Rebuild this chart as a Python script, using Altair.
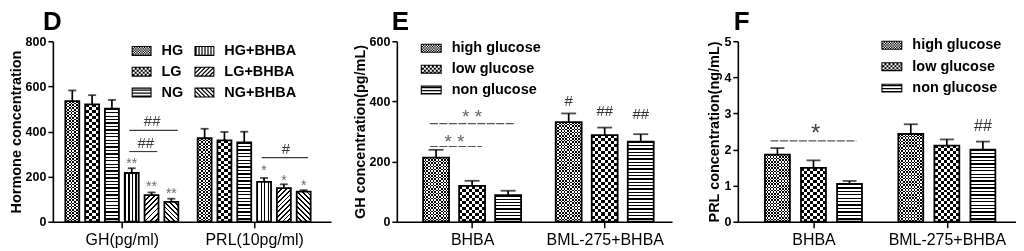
import math
import altair as alt
import pandas as pd

FONT = "Liberation Sans"
BLACK = "#000000"
WHITE = "#ffffff"

# ---------------- data ----------------
D_groups = ["GH(pg/ml)", "PRL(10pg/ml)"]
D_series = ["HG", "LG", "NG", "HG+BHBA", "LG+BHBA", "NG+BHBA"]
D_gh_mean = [535, 520, 501, 216, 118, 88]
D_gh_err = [47, 41, 39, 21, 12, 14]
D_prl_mean = [370, 361, 352, 177, 149, 133]
D_prl_err = [42, 37, 47, 17, 17, 7]
D_yticks = [0, 200, 400, 600, 800]
D_star_text = ["**", "**", "**", "*", "*", "*"]
D_star_x = [3, 4, 5, 9.68, 10.68, 11.68]
D_star_y = [270, 168, 137, 239, 195, 173]
D_hash_text = ["##", "##", "#"]
D_hash_x = [4.03, 3.71, 10.78]
D_hash_y = [446, 350, 322]
D_line_x1 = [2.88, 2.88, 9.56]
D_line_x2 = [5.32, 4.29, 11.9]
D_line_y = [405, 311, 284]

E_groups = ["BHBA", "BML-275+BHBA"]
E_series = ["high glucose", "low glucose", "non glucose"]
E_bhba_mean = [213, 119, 88]
E_bhba_err = [26, 17, 15]
E_bml_mean = [331, 288, 266]
E_bml_err = [29, 25, 25]
E_yticks = [0, 200, 400, 600]
E_star_text = ["* *", "* *"]
E_star_x = [1.0, 0.51]
E_star_y = [362, 279]
E_hash_text = ["#", "##", "##"]
E_hash_x = [3.68, 4.68, 5.68]
E_hash_y = [401, 368, 357]
E_line_x1 = [-0.17, -0.17]
E_line_x2 = [2.17, 1.27]
E_line_y = [326, 250]

F_groups = ["BHBA", "BML-275+BHBA"]
F_series = ["high glucose", "low glucose", "non glucose"]
F_bhba_mean = [1.86, 1.49, 1.05]
F_bhba_err = [0.18, 0.21, 0.08]
F_bml_mean = [2.43, 2.11, 2.00]
F_bml_err = [0.27, 0.17, 0.22]
F_yticks = [0, 1, 2, 3, 4, 5]
F_star_text = ["*"]
F_star_x = [1.06]
F_star_y = [2.56]
F_hash_text = ["##"]
F_hash_x = [5.7]
F_hash_y = [2.65]
F_line_x1 = [-0.19]
F_line_x2 = [2.19]
F_line_y = [2.24]

D_patterns = ["dots", "checker", "hlines", "vlines", "diag_up", "diag_down"]
EF_patterns = ["dots", "checker", "hlines"]


# ---------------- pattern helpers ----------------
def grad(n, frac, x1, y1, x2, y2, on=BLACK, off=WHITE):
    n = max(1, int(n))
    stops = []
    for k in range(n):
        a, m, e = k / n, (k + frac) / n, (k + 1) / n
        stops += [alt.GradientStop(color=on, offset=round(a, 5)),
                  alt.GradientStop(color=on, offset=round(m, 5)),
                  alt.GradientStop(color=off, offset=round(m, 5)),
                  alt.GradientStop(color=off, offset=round(e, 5))]
    return alt.LinearGradient(gradient="linear", stops=stops, x1=x1, y1=y1, x2=x2, y2=y2)


def clip_poly(poly, nx, ny, c, ge):
    out = []
    for i in range(len(poly)):
        p, q = poly[i], poly[(i + 1) % len(poly)]
        fp = nx * p[0] + ny * p[1] - c
        fq = nx * q[0] + ny * q[1] - c
        if not ge:
            fp, fq = -fp, -fq
        if fp >= 0:
            out.append(p)
        if (fp >= 0) != (fq >= 0):
            t = fp / (fp - fq)
            out.append((p[0] + t * (q[0] - p[0]), p[1] + t * (q[1] - p[1])))
    return out


def poly_area(poly):
    s = 0.0
    for i in range(len(poly)):
        x0, y0 = poly[i]
        x1, y1 = poly[(i + 1) % len(poly)]
        s += x0 * y1 - x1 * y0
    return s / 2


def ring(poly, sc, positive):
    if (poly_area(poly) > 0) != positive:
        poly = poly[::-1]
    pts = ["%.3f,%.3f" % (x * sc, y * sc) for x, y in poly]
    return "M" + "L".join(pts) + "Z"


def symbol_path(pattern, W, H):
    hw, hh, b = W / 2, H / 2, 1.1
    outer = [(-hw, -hh), (hw, -hh), (hw, hh), (-hw, hh)]
    inner = [(-hw + b, -hh + b), (hw - b, -hh + b), (hw - b, hh - b), (-hw + b, hh - b)]
    holes = []
    if pattern in ("checker", "dots"):
        cell = 2.0 if pattern == "checker" else 1.25
        x0, y0 = -hw + b, -hh + b
        nxc = int(math.ceil((W - 2 * b) / cell))
        nyc = int(math.ceil((H - 2 * b) / cell))
        for i in range(nxc):
            for j in range(nyc):
                if (i + j) % 2 == 0:
                    xa, ya = x0 + i * cell, y0 + j * cell
                    xb, yb = min(xa + cell, hw - b), min(ya + cell, hh - b)
                    if xb - xa > 0.2 and yb - ya > 0.2:
                        holes.append([(xa, ya), (xb, ya), (xb, yb), (xa, yb)])
    else:
        r = math.sqrt(0.5)
        nx, ny = {"hlines": (0, 1), "vlines": (1, 0),
                  "diag_up": (r, r), "diag_down": (r, -r)}[pattern]
        period, lw = 3.0, 1.2
        ts = [nx * x + ny * y for x, y in inner]
        for k in range(int(math.floor(min(ts) / period)) - 1, int(math.ceil(max(ts) / period)) + 1):
            poly = clip_poly(inner, nx, ny, k * period + lw, True)
            if len(poly) >= 3:
                poly = clip_poly(poly, nx, ny, (k + 1) * period, False)
            if len(poly) >= 3 and abs(poly_area(poly)) > 0.05:
                holes.append(poly)
    sc = 1.0 / hw
    return ring(outer, sc, True) + "".join(ring(h, sc, False) for h in holes)


def bar_fills(pattern, w, h):
    """list of (fill, blend) layers that paint one bar of pixel size w x h"""
    if pattern == "hlines":
        return [(grad(round(h / 3.4), 0.38, 0, 0, 0, 1), None)]
    if pattern == "vlines":
        return [(grad(round(w / 3.5), 0.38, 0, 0, 1, 0), None)]
    if pattern in ("diag_up", "diag_down"):
        k = h / w
        a = (1 + k) / (1 + k * k)
        bb = k * a
        n = round((w + h) / math.sqrt(2) / 3.4)
        if pattern == "diag_up":
            return [(grad(n, 0.38, 0, 0, a, bb), None)]
        return [(grad(n, 0.38, 0, 1, a, 1 - bb), None)]
    cell = 3.0 if pattern == "checker" else 1.6
    return [(grad(round(h / (2 * cell)), 0.5, 0, 0, 0, 1), None),
            (grad(round(w / (2 * cell)), 0.5, 0, 0, 1, 0), "difference")]


# ---------------- panel builder ----------------
def build_df(groups, series, means, errs, gap):
    step = len(series) - 1 + gap
    rows = []
    for g, grp in enumerate(groups):
        for i, s in enumerate(series):
            rows.append({"group": grp, "series": s, "pos": g * step + i,
                         "value": means[g][i], "top": means[g][i] + errs[g][i]})
    return pd.DataFrame(rows)


def panel(letter, title_dx, groups, series, means, errs, patterns, gap, xdom,
          ymax, yticks, ytitle, W, H, bw, capw, legend_cols,
          legend_x, legend_y, sym_w, sym_h, col_pad, row_pad,
          stars, hashes, lines, star_style, hash_style, line_style):
    df = build_df(groups, series, means, errs, gap)
    n = len(series)
    step = n - 1 + gap
    centers = [g * step + (n - 1) / 2 for g in range(len(groups))]
    mid = (centers[0] + centers[1]) / 2
    label_expr = "datum.value < %s ? '%s' : '%s'" % (mid, groups[0], groups[1])

    xscale = alt.Scale(domain=xdom, nice=False, zero=False)
    xaxis = alt.Axis(values=centers, labelExpr=label_expr, grid=False,
                     tickSize=6, tickWidth=1.5, tickColor=BLACK,
                     domainColor=BLACK, domainWidth=1.6,
                     labelFont=FONT, labelFontSize=16, labelColor=BLACK,
                     labelPadding=4, labelFlush=False, labelOverlap=False)
    yscale = alt.Scale(domain=[0, ymax], nice=False, zero=True)
    yaxis = alt.Axis(values=yticks, grid=False, tickSize=5, tickWidth=1.5,
                     tickColor=BLACK, domainColor=BLACK, domainWidth=1.6,
                     labelFont=FONT, labelFontSize=12.5, labelFontWeight="bold",
                     labelColor=BLACK, labelPadding=2,
                     titleFont=FONT, titleFontSize=14.5, titleFontWeight="bold",
                     titleColor=BLACK, titlePadding=2)

    def X(field="pos"):
        return alt.X(field + ":Q", scale=xscale, axis=xaxis, title=None)

    def Y(field="value"):
        return alt.Y(field + ":Q", scale=yscale, axis=yaxis, title=ytitle)

    pat_of = dict(zip(series, patterns))
    layers = []
    # patterned fills, one layer set per bar
    for _, row in df.iterrows():
        h = row["value"] / ymax * H
        rdf = pd.DataFrame([row])
        for fill, blend in bar_fills(pat_of[row["series"]], bw, h):
            kw = {"blend": blend} if blend else {}
            layers.append(alt.Chart(rdf).mark_bar(orient="vertical", size=bw, fill=fill, **kw)
                          .encode(x=X(), y=Y("value")))
    # error bars
    layers.append(alt.Chart(df).mark_rule(color=BLACK, strokeWidth=1.7)
                  .encode(x=X(), y=Y("value"), y2=alt.Y2("top:Q")))
    # bar outlines
    layers.append(alt.Chart(df).mark_bar(orient="vertical", size=bw, fillOpacity=0,
                                         stroke=BLACK, strokeWidth=1.8)
                  .encode(x=X(), y=Y("value")))
    layers.append(alt.Chart(df).mark_tick(orient="horizontal", size=capw, thickness=1.8, color=BLACK)
                  .encode(x=X(), y=Y("top")))
    # legend (invisible points, patterned legend symbols)
    paths = [symbol_path(pat_of[s], sym_w, sym_h) for s in series]
    legend = alt.Legend(title=None, orient="none", legendX=legend_x, legendY=legend_y,
                        direction="vertical", columns=legend_cols, padding=0,
                        symbolSize=sym_w * sym_w, symbolFillColor=BLACK,
                        symbolStrokeWidth=0, symbolOpacity=1,
                        labelFont=FONT, labelFontSize=14.5, labelFontWeight="bold",
                        labelColor=BLACK, labelOffset=10,
                        columnPadding=col_pad, rowPadding=row_pad)
    layers.append(alt.Chart(df).mark_point(filled=True, color=BLACK, opacity=0)
                  .encode(x=X(), y=Y("value"),
                          shape=alt.Shape("series:N",
                                          scale=alt.Scale(domain=series, range=paths),
                                          legend=legend)))
    # significance lines
    lx1, lx2, ly = lines
    ldf = pd.DataFrame({"pos": lx1, "pos2": lx2, "value": ly})
    layers.append(alt.Chart(ldf).mark_rule(**line_style)
                  .encode(x=X(), x2=alt.X2("pos2:Q"), y=Y("value")))
    for (txt, tx, ty), style in ((stars, star_style), (hashes, hash_style)):
        tdf = pd.DataFrame({"label": txt, "pos": tx, "value": ty})
        layers.append(alt.Chart(tdf).mark_text(font=FONT, align="center", baseline="middle", **style)
                      .encode(x=X(), y=Y("value"), text="label:N"))

    return alt.layer(*layers).properties(
        width=W, height=H,
        title=alt.TitleParams(letter, anchor="start", frame="group", dx=title_dx,
                              font=FONT, fontSize=26, fontWeight="bold", color=BLACK, offset=0))


D = panel("D", -10, D_groups, D_series, [D_gh_mean, D_prl_mean], [D_gh_err, D_prl_err],
          D_patterns, 1.68, [-0.73, 12.81], 800, D_yticks, "Hormone concentration",
          279, 181, 14, 8, 2, 79, -0.5, 20, 10, 11, 4,
          (D_star_text, D_star_x, D_star_y), (D_hash_text, D_hash_x, D_hash_y),
          (D_line_x1, D_line_x2, D_line_y),
          {"fontSize": 14, "color": "#6a6a6a", "dy": 3},
          {"fontSize": 15, "color": "#3a3a3a"},
          {"color": "#3a3a3a", "strokeWidth": 1.1})

E = panel("E", -5, E_groups, E_series, [E_bhba_mean, E_bml_mean], [E_bhba_err, E_bml_err],
          EF_patterns, 1.68, [-0.95, 6.41], 600, E_yticks, "GH concentration(pg/mL)",
          276, 181, 26, 15, 1, 24, -3.5, 21, 9, 10, 4,
          (E_star_text, E_star_x, E_star_y), (E_hash_text, E_hash_x, E_hash_y),
          (E_line_x1, E_line_x2, E_line_y),
          {"fontSize": 19, "color": "#666666", "dy": 4},
          {"fontSize": 15, "color": "#333333"},
          {"color": "#555555", "strokeWidth": 1.1, "strokeDash": [8, 1.5]})

F = panel("F", -4, F_groups, F_series, [F_bhba_mean, F_bml_mean], [F_bhba_err, F_bml_err],
          EF_patterns, 1.7, [-0.96, 6.48], 5, F_yticks, "PRL concentration(ng/mL)",
          279, 181, 25, 14, 1, 144, -6.5, 21, 9, 10, 4.5,
          (F_star_text, F_star_x, F_star_y), (F_hash_text, F_hash_x, F_hash_y),
          (F_line_x1, F_line_x2, F_line_y),
          {"fontSize": 24, "color": "#444444", "dy": 5},
          {"fontSize": 16, "color": "#333333"},
          {"color": "#555555", "strokeWidth": 1.1, "strokeDash": [8, 1.5]})

chart = (alt.hconcat(D, E, F, spacing=66, bounds="flush", padding=0)
         .resolve_scale(shape="independent")
         .resolve_legend(shape="independent")
         .configure_view(stroke=None))

chart.save("out.html", embed_options={"renderer": "svg", "actions": False})
